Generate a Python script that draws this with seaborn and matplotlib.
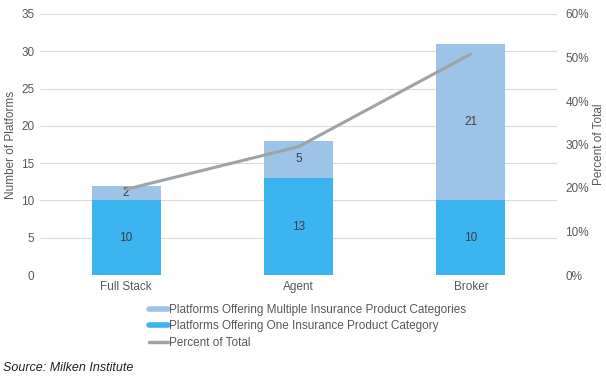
import matplotlib
matplotlib.use('Agg')
import matplotlib.pyplot as plt
import seaborn as sns
from matplotlib.lines import Line2D
from matplotlib.ticker import PercentFormatter

# Данные
categories = ['Full Stack', 'Agent', 'Broker']
one_category = [10, 13, 10]
multi_category = [2, 5, 21]
percent_total = [19.7, 29.5, 50.8]

totals = [a + b for a, b in zip(one_category, multi_category)]

c_multi = '#9DC3E6'
c_one = '#3BB4F0'
c_line = '#9EA3A6'
c_text = '#595959'

sns.set_theme(style='white')
plt.rcParams['font.family'] = ['Liberation Sans', 'DejaVu Sans']

fig = plt.figure(figsize=(6.06, 3.76), dpi=100)
ax = fig.add_axes([40 / 606, 1 - 275 / 376, 517 / 606, 261 / 376])

# Столбцы: сначала полная высота, потом нижняя часть
sns.barplot(x=categories, y=totals, color=c_multi, width=0.4, ax=ax,
            saturation=1, linewidth=0, zorder=2)
sns.barplot(x=categories, y=one_category, color=c_one, width=0.4, ax=ax,
            saturation=1, linewidth=0, zorder=3)

ax.set_ylim(0, 35)
ax.set_xlim(-0.5, 2.5)
ax.set_yticks(range(0, 36, 5))
ax.grid(axis='y', color='#DADADA', linewidth=0.8, zorder=0)
ax.set_axisbelow(True)
for s in ax.spines.values():
    s.set_visible(False)
ax.tick_params(axis='both', length=0, labelsize=8.5, colors=c_text, pad=4)
ax.set_ylabel('Number of Platforms', fontsize=8.5, color=c_text, labelpad=3)
ax.set_xlabel('')

# Подписи значений
for i, (a, b) in enumerate(zip(one_category, multi_category)):
    ax.text(i, a / 2, str(a), ha='center', va='center', fontsize=8.5, color='#404040', zorder=5)
    ax.text(i, a + b / 2, str(b), ha='center', va='center', fontsize=8.5, color='#404040', zorder=5)

# Линия процента на правой оси
ax2 = ax.twinx()
sns.lineplot(x=[0, 1, 2], y=percent_total, color=c_line, linewidth=2.2, ax=ax2)
ax2.set_ylim(0, 60)
ax2.set_yticks(range(0, 61, 10))
ax2.yaxis.set_major_formatter(PercentFormatter(decimals=0))
ax2.set_xlim(-0.5, 2.5)
for s in ax2.spines.values():
    s.set_visible(False)
ax2.tick_params(axis='y', length=0, labelsize=8.5, colors=c_text, pad=6)
ax2.set_ylabel('Percent of Total', fontsize=8.5, color=c_text, labelpad=3)
ax2.grid(False)

# Легенда
handles = [
    Line2D([0], [0], color=c_multi, lw=4),
    Line2D([0], [0], color=c_one, lw=4),
    Line2D([0], [0], color=c_line, lw=2.5),
]
labels = [
    'Platforms Offering Multiple Insurance Product Categories',
    'Platforms Offering One Insurance Product Category',
    'Percent of Total',
]
fig.legend(handles, labels, loc='upper left', bbox_to_anchor=(144 / 606, 1 - 299 / 376),
           frameon=False, fontsize=8.5, handlelength=1.6, handletextpad=0.15,
           labelspacing=0.4, labelcolor=c_text, borderaxespad=0)

fig.text(3 / 606, 1 - 368 / 376, 'Source: Milken Institute', fontsize=9,
         style='italic', color='#222222', va='center')

fig.savefig('out.png', dpi=100)
